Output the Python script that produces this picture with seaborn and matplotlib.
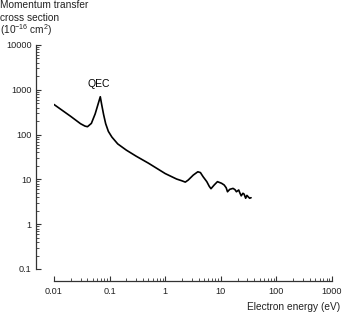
import matplotlib
matplotlib.use("Agg")
import matplotlib.pyplot as plt
import matplotlib.ticker as mticker
import seaborn as sns
import pandas as pd

energy = [0.01, 0.02, 0.03, 0.036, 0.04, 0.047, 0.055, 0.068, 0.072, 0.078, 0.085, 0.095,
          0.11, 0.14, 0.2, 0.3, 0.5, 1.0, 1.6, 2.0, 2.3, 2.6, 3.2, 3.86, 4.3, 4.8, 5.6,
          6.2, 6.66, 7.6, 8.7, 10.3, 11.5, 12.5, 13.2, 14.5, 16.6, 18, 19.1, 21, 22,
          23.3, 25, 26.2, 28, 29.5, 31, 33, 35]
sigma = [470, 255, 175, 155, 150, 178, 290, 700, 470, 280, 175, 118,
         88, 62, 45, 33, 23, 13.5, 10.2, 9.3, 8.7, 9.7, 12.5, 14.8, 14.2, 11.5, 8.9,
         7.0, 6.2, 7.5, 8.9, 8.2, 7.5, 6.5, 5.3, 6.0, 6.3, 5.9, 5.3, 5.8, 5.0,
         4.3, 4.9, 4.7, 3.8, 4.4, 4.1, 3.8, 3.9]

xticks = [0.01, 0.1, 1, 10, 100, 1000]
xticklabels = ["0.01", "0.1", "1", "10", "100", "1000"]
yticks = [0.1, 1, 10, 100, 1000, 10000]
yticklabels = ["0.1", "1", "10", "100", "1000", "10000"]
title_lines = ["Momentum transfer", "cross section", "(10$^{-16}$ cm$^{2}$)"]

df = pd.DataFrame({"energy": energy, "sigma": sigma})

sns.set_style("ticks")
plt.rcParams["font.family"] = ["Liberation Sans", "DejaVu Sans"]
plt.rcParams["mathtext.fontset"] = "custom"
plt.rcParams["mathtext.rm"] = "Liberation Sans"

W, H = 342, 313
fig = plt.figure(figsize=(W / 100, H / 100), dpi=100)
ax = fig.add_axes([54 / W, (H - 269) / H, (332 - 54) / W, (269 - 45) / H])

sns.lineplot(data=df, x="energy", y="sigma", ax=ax, color="black", linewidth=1.2)

ax.set_xscale("log")
ax.set_yscale("log")
ax.set_xlim(0.01, 1000)
ax.set_ylim(0.1, 10000)
ax.set_xticks(xticks)
ax.set_xticklabels(xticklabels)
ax.set_yticks(yticks)
ax.set_yticklabels(yticklabels)
ax.xaxis.set_minor_locator(mticker.LogLocator(base=10, subs=range(2, 10), numticks=20))
ax.yaxis.set_minor_locator(mticker.LogLocator(base=10, subs=range(2, 10), numticks=20))
ax.xaxis.set_minor_formatter(mticker.NullFormatter())
ax.yaxis.set_minor_formatter(mticker.NullFormatter())

for s in ["top", "right"]:
    ax.spines[s].set_visible(False)
ax.spines["left"].set_position(("outward", 18 * 0.72))
ax.spines["bottom"].set_position(("outward", 12 * 0.72))
for s in ["left", "bottom"]:
    ax.spines[s].set_color("#333333")
    ax.spines[s].set_linewidth(0.9)

ax.tick_params(axis="both", which="major", direction="in", length=3.5, width=0.8,
               color="#333333", labelsize=6.6, labelcolor="#222222")
ax.tick_params(axis="both", which="minor", direction="in", length=2, width=0.6, color="#333333")
ax.tick_params(axis="y", which="major", pad=3)
ax.tick_params(axis="x", which="major", pad=4)
ax.set_xlabel("")
ax.set_ylabel("")

for i, line in enumerate(title_lines):
    fig.text(0 / W, 1 - (8 + 13 * i) / H, line, ha="left", va="baseline",
             fontsize=7.3, color="#222222")
fig.text(340 / W, 1 - 307 / H, "Electron energy (eV)", ha="right", va="center",
         fontsize=7.3, color="#222222")
ax.text(0.063, 1050, "QEC", ha="center", va="bottom", fontsize=7.5, color="black")

fig.savefig("out.png", dpi=100)
